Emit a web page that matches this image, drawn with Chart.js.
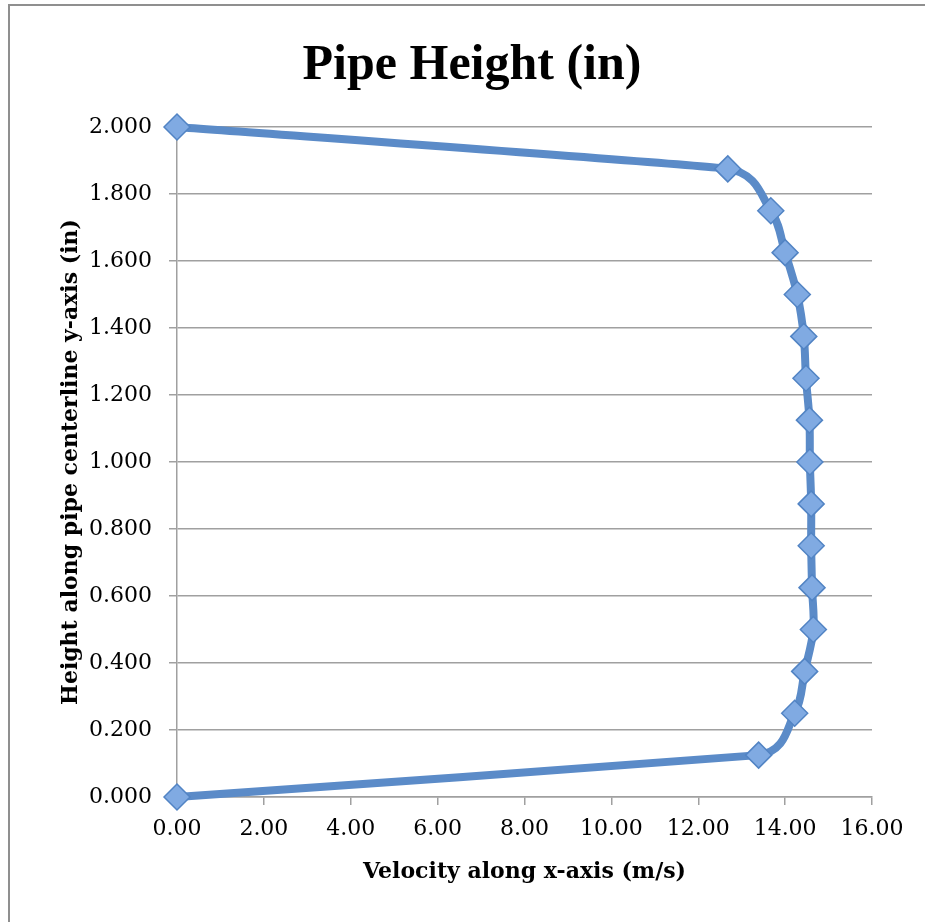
<!DOCTYPE html>
<html>
<head>
<meta charset="utf-8">
<title>Pipe Height (in)</title>
<script src="https://cdn.jsdelivr.net/npm/chart.js@4/dist/chart.umd.min.js"></script>
<style>
  html, body { margin: 0; padding: 0; background: #fff; overflow: hidden; }
  #wrap { position: relative; width: 925px; height: 922px; }
  #frame {
    position: absolute; left: 8px; top: 4px; width: 2000px; height: 2000px;
    border-left: 2px solid #8f8f8f; border-top: 2px solid #8f8f8f;
  }
  #chart { position: absolute; left: 0; top: 0; }
</style>
</head>
<body>
<div id="wrap">
  <div id="frame"></div>
  <canvas id="chart" width="925" height="922"></canvas>
</div>
<script>
// values
const heights = [2.000, 1.875, 1.750, 1.625, 1.500, 1.375, 1.250, 1.125, 1.000,
                 0.875, 0.750, 0.625, 0.500, 0.375, 0.250, 0.125, 0.000];
const velocities = [0.00, 12.68, 13.67, 14.00, 14.28, 14.43, 14.48, 14.56, 14.57,
                    14.60, 14.60, 14.62, 14.65, 14.45, 14.22, 13.39, 0.00];
const xTicks = [0, 2, 4, 6, 8, 10, 12, 14, 16];
const yTicks = [0, 0.2, 0.4, 0.6, 0.8, 1.0, 1.2, 1.4, 1.6, 1.8, 2.0];

const colors = {
  line: '#5b8bc8',
  marker: '#80aae2',
  markerEdge: '#5284c4',
  grid: '#a0a0a0',
  text: '#000000',
};
const serif = "'DejaVu Serif', serif";
const titleSerif = "'Liberation Serif', 'Times New Roman', serif";

// smoothing closer to Excel: tangent through neighbours,
// handle = catmull-rom length, but never more than half the shorter chord
const excelSmooth = {
  id: 'excelSmooth',
  beforeDatasetDraw(chart, args) {
    const meta = args.meta;
    meta.dataset.updateControlPoints(chart.chartArea, meta.iScale.axis);
    const pts = meta.data;
    for (let i = 0; i < pts.length; i++) {
      const p = pts[i];
      const prev = pts[i - 1] || p;
      const next = pts[i + 1] || p;
      const tx = next.x - prev.x, ty = next.y - prev.y;
      const len = Math.hypot(tx, ty) || 1;
      const ux = tx / len, uy = ty / len;
      const chords = [Math.hypot(p.x - prev.x, p.y - prev.y), Math.hypot(next.x - p.x, next.y - p.y)]
        .filter(d => d > 0);
      const h = Math.min(len / 6, 0.5 * Math.min(...chords));
      p.cp1x = p.x - ux * h; p.cp1y = p.y - uy * h;
      p.cp2x = p.x + ux * h; p.cp2y = p.y + uy * h;
    }
  },
};

new Chart(document.getElementById('chart'), {
  type: 'line',
  data: {
    datasets: [{
      data: velocities.map((v, i) => ({ x: v, y: heights[i] })),
      borderColor: colors.line,
      borderWidth: 8,
      tension: 0.4,
      fill: false,
      clip: false,
      pointStyle: 'rectRot',
      pointRadius: 13,
      pointBackgroundColor: colors.marker,
      pointBorderColor: colors.markerEdge,
      pointBorderWidth: 1.5,
    }],
  },
  options: {
    responsive: false,
    animation: false,
    layout: { padding: { left: 72, right: 53, top: 0, bottom: 0 } },
    plugins: {
      legend: { display: false },
      tooltip: { enabled: false },
      title: {
        display: true,
        text: 'Pipe Height (in)',
        color: colors.text,
        font: { family: titleSerif, size: 50, weight: 'bold' },
        padding: { top: 36, bottom: 31 },
      },
    },
    scales: {
      x: {
        type: 'linear',
        min: 0, max: 16,
        afterBuildTicks: s => { s.ticks = xTicks.map(v => ({ value: v })); },
        afterFit: s => { s.height = 125; },
        grid: { drawOnChartArea: false, drawTicks: true, tickLength: 8, color: colors.grid, lineWidth: 1.5 },
        border: { display: true, color: colors.grid, width: 1.5 },
        ticks: { color: colors.text, font: { family: serif, size: 22 }, padding: 11, maxRotation: 0,
                 callback: v => v.toFixed(2) },
        title: {
          display: true,
          text: 'Velocity along x-axis (m/s)',
          color: colors.text,
          font: { family: serif, size: 22, weight: 'bold' },
          padding: { top: 0, bottom: 36.8 },
        },
      },
      y: {
        min: 0, max: 2,
        afterBuildTicks: s => { s.ticks = yTicks.map(v => ({ value: v })); },
        afterFit: s => { s.width = 105; },
        grid: { drawTicks: true, tickLength: 8, color: colors.grid, lineWidth: 1.5 },
        border: { display: true, color: colors.grid, width: 1.5 },
        ticks: { color: colors.text, font: { family: serif, size: 22 }, padding: 17,
                 callback: v => v.toFixed(3) },
        title: {
          display: true,
          text: 'Height along pipe centerline y-axis (in)',
          color: colors.text,
          font: { family: serif, size: 22, weight: 'bold' },
          padding: { top: -14.2, bottom: 0 },
        },
      },
    },
  },
  plugins: [excelSmooth],
});
</script>
</body>
</html>
